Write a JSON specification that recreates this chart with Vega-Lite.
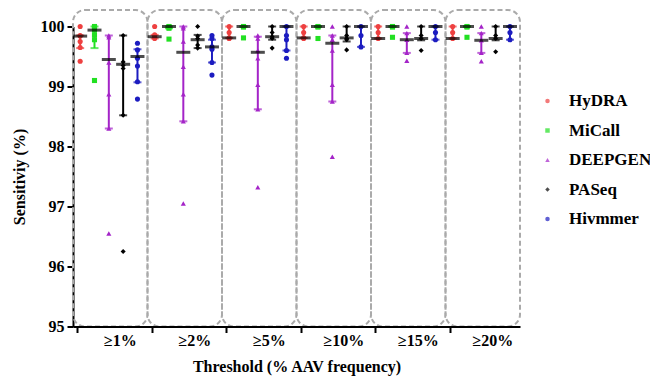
{
  "$schema": "https://vega.github.io/schema/vega-lite/v6.json",
  "width": 447,
  "height": 300,
  "autosize": "none",
  "padding": {"left": 73, "top": 26.5, "right": 130, "bottom": 51.5},
  "background": "white",
  "config": {"view": {"stroke": null}, "font": "Liberation Serif"},
  "datasets": {
    "thr": [{"threshold": "≥1%"}, {"threshold": "≥2%"}, {"threshold": "≥5%"}, {"threshold": "≥10%"}, {"threshold": "≥15%"}, {"threshold": "≥20%"}],
    "stats": [
      {"threshold": "≥1%", "tool": "HyDRA", "med": 99.84, "lo": 99.64, "hi": 99.85},
      {"threshold": "≥1%", "tool": "MiCall", "med": 99.94, "lo": 99.64, "hi": 100},
      {"threshold": "≥1%", "tool": "DEEPGEN", "med": 99.45, "lo": 98.3, "hi": 99.85},
      {"threshold": "≥1%", "tool": "PASeq", "med": 99.37, "lo": 98.52, "hi": 99.85},
      {"threshold": "≥1%", "tool": "Hivmmer", "med": 99.5, "lo": 99.07, "hi": 99.62},
      {"threshold": "≥2%", "tool": "HyDRA", "med": 99.83, "lo": 99.8, "hi": 99.86},
      {"threshold": "≥2%", "tool": "MiCall", "med": 100, "lo": 99.97, "hi": 100},
      {"threshold": "≥2%", "tool": "DEEPGEN", "med": 99.57, "lo": 98.42, "hi": 100},
      {"threshold": "≥2%", "tool": "PASeq", "med": 99.78, "lo": 99.64, "hi": 99.86},
      {"threshold": "≥2%", "tool": "Hivmmer", "med": 99.66, "lo": 99.4, "hi": 99.78},
      {"threshold": "≥5%", "tool": "HyDRA", "med": 99.81, "lo": 99.81, "hi": 100},
      {"threshold": "≥5%", "tool": "MiCall", "med": 100, "lo": 100, "hi": 100},
      {"threshold": "≥5%", "tool": "DEEPGEN", "med": 99.57, "lo": 98.62, "hi": 99.83},
      {"threshold": "≥5%", "tool": "PASeq", "med": 99.83, "lo": 99.78, "hi": 100},
      {"threshold": "≥5%", "tool": "Hivmmer", "med": 100, "lo": 99.6, "hi": 100},
      {"threshold": "≥10%", "tool": "HyDRA", "med": 99.81, "lo": 99.81, "hi": 100},
      {"threshold": "≥10%", "tool": "MiCall", "med": 100, "lo": 100, "hi": 100},
      {"threshold": "≥10%", "tool": "DEEPGEN", "med": 99.72, "lo": 98.75, "hi": 99.85},
      {"threshold": "≥10%", "tool": "PASeq", "med": 99.81, "lo": 99.75, "hi": 100},
      {"threshold": "≥10%", "tool": "Hivmmer", "med": 100, "lo": 99.66, "hi": 100},
      {"threshold": "≥15%", "tool": "HyDRA", "med": 99.8, "lo": 99.8, "hi": 100},
      {"threshold": "≥15%", "tool": "MiCall", "med": 100, "lo": 100, "hi": 100},
      {"threshold": "≥15%", "tool": "DEEPGEN", "med": 99.78, "lo": 99.56, "hi": 99.89},
      {"threshold": "≥15%", "tool": "PASeq", "med": 99.8, "lo": 99.77, "hi": 100},
      {"threshold": "≥15%", "tool": "Hivmmer", "med": 100, "lo": 99.78, "hi": 100},
      {"threshold": "≥20%", "tool": "HyDRA", "med": 99.8, "lo": 99.8, "hi": 100},
      {"threshold": "≥20%", "tool": "MiCall", "med": 100, "lo": 100, "hi": 100},
      {"threshold": "≥20%", "tool": "DEEPGEN", "med": 99.77, "lo": 99.56, "hi": 99.89},
      {"threshold": "≥20%", "tool": "PASeq", "med": 99.8, "lo": 99.77, "hi": 100},
      {"threshold": "≥20%", "tool": "Hivmmer", "med": 100, "lo": 99.78, "hi": 100}
    ],
    "pts": [
      {"threshold": "≥1%", "tool": "HyDRA", "value": 100}, {"threshold": "≥1%", "tool": "HyDRA", "value": 99.85}, {"threshold": "≥1%", "tool": "HyDRA", "value": 99.84}, {"threshold": "≥1%", "tool": "HyDRA", "value": 99.75}, {"threshold": "≥1%", "tool": "HyDRA", "value": 99.65}, {"threshold": "≥1%", "tool": "HyDRA", "value": 99.42},
      {"threshold": "≥1%", "tool": "MiCall", "value": 100}, {"threshold": "≥1%", "tool": "MiCall", "value": 99.99}, {"threshold": "≥1%", "tool": "MiCall", "value": 99.94}, {"threshold": "≥1%", "tool": "MiCall", "value": 99.86}, {"threshold": "≥1%", "tool": "MiCall", "value": 99.78}, {"threshold": "≥1%", "tool": "MiCall", "value": 99.1},
      {"threshold": "≥1%", "tool": "DEEPGEN", "value": 99.85}, {"threshold": "≥1%", "tool": "DEEPGEN", "value": 99.82}, {"threshold": "≥1%", "tool": "DEEPGEN", "value": 99.4}, {"threshold": "≥1%", "tool": "DEEPGEN", "value": 98.87}, {"threshold": "≥1%", "tool": "DEEPGEN", "value": 98.3}, {"threshold": "≥1%", "tool": "DEEPGEN", "value": 96.55},
      {"threshold": "≥1%", "tool": "PASeq", "value": 99.85}, {"threshold": "≥1%", "tool": "PASeq", "value": 99.41}, {"threshold": "≥1%", "tool": "PASeq", "value": 99.35}, {"threshold": "≥1%", "tool": "PASeq", "value": 99.3}, {"threshold": "≥1%", "tool": "PASeq", "value": 98.52}, {"threshold": "≥1%", "tool": "PASeq", "value": 96.25},
      {"threshold": "≥1%", "tool": "Hivmmer", "value": 99.72}, {"threshold": "≥1%", "tool": "Hivmmer", "value": 99.61}, {"threshold": "≥1%", "tool": "Hivmmer", "value": 99.47}, {"threshold": "≥1%", "tool": "Hivmmer", "value": 99.34}, {"threshold": "≥1%", "tool": "Hivmmer", "value": 99.08}, {"threshold": "≥1%", "tool": "Hivmmer", "value": 98.79},
      {"threshold": "≥2%", "tool": "HyDRA", "value": 100}, {"threshold": "≥2%", "tool": "HyDRA", "value": 99.86}, {"threshold": "≥2%", "tool": "HyDRA", "value": 99.84}, {"threshold": "≥2%", "tool": "HyDRA", "value": 99.82}, {"threshold": "≥2%", "tool": "HyDRA", "value": 99.8},
      {"threshold": "≥2%", "tool": "MiCall", "value": 100}, {"threshold": "≥2%", "tool": "MiCall", "value": 99.99}, {"threshold": "≥2%", "tool": "MiCall", "value": 99.97}, {"threshold": "≥2%", "tool": "MiCall", "value": 99.79},
      {"threshold": "≥2%", "tool": "DEEPGEN", "value": 100}, {"threshold": "≥2%", "tool": "DEEPGEN", "value": 99.97}, {"threshold": "≥2%", "tool": "DEEPGEN", "value": 99.75}, {"threshold": "≥2%", "tool": "DEEPGEN", "value": 99.33}, {"threshold": "≥2%", "tool": "DEEPGEN", "value": 98.87}, {"threshold": "≥2%", "tool": "DEEPGEN", "value": 98.42}, {"threshold": "≥2%", "tool": "DEEPGEN", "value": 97.05},
      {"threshold": "≥2%", "tool": "PASeq", "value": 100}, {"threshold": "≥2%", "tool": "PASeq", "value": 99.84}, {"threshold": "≥2%", "tool": "PASeq", "value": 99.8}, {"threshold": "≥2%", "tool": "PASeq", "value": 99.69}, {"threshold": "≥2%", "tool": "PASeq", "value": 99.64},
      {"threshold": "≥2%", "tool": "Hivmmer", "value": 99.85}, {"threshold": "≥2%", "tool": "Hivmmer", "value": 99.8}, {"threshold": "≥2%", "tool": "Hivmmer", "value": 99.66}, {"threshold": "≥2%", "tool": "Hivmmer", "value": 99.62}, {"threshold": "≥2%", "tool": "Hivmmer", "value": 99.4}, {"threshold": "≥2%", "tool": "Hivmmer", "value": 99.19},
      {"threshold": "≥5%", "tool": "HyDRA", "value": 100}, {"threshold": "≥5%", "tool": "HyDRA", "value": 99.9}, {"threshold": "≥5%", "tool": "HyDRA", "value": 99.81}, {"threshold": "≥5%", "tool": "HyDRA", "value": 99.8},
      {"threshold": "≥5%", "tool": "MiCall", "value": 100}, {"threshold": "≥5%", "tool": "MiCall", "value": 99.99}, {"threshold": "≥5%", "tool": "MiCall", "value": 99.81},
      {"threshold": "≥5%", "tool": "DEEPGEN", "value": 99.85}, {"threshold": "≥5%", "tool": "DEEPGEN", "value": 99.8}, {"threshold": "≥5%", "tool": "DEEPGEN", "value": 99.6}, {"threshold": "≥5%", "tool": "DEEPGEN", "value": 99.47}, {"threshold": "≥5%", "tool": "DEEPGEN", "value": 99.03}, {"threshold": "≥5%", "tool": "DEEPGEN", "value": 98.62}, {"threshold": "≥5%", "tool": "DEEPGEN", "value": 97.32},
      {"threshold": "≥5%", "tool": "PASeq", "value": 100}, {"threshold": "≥5%", "tool": "PASeq", "value": 99.9}, {"threshold": "≥5%", "tool": "PASeq", "value": 99.83}, {"threshold": "≥5%", "tool": "PASeq", "value": 99.8}, {"threshold": "≥5%", "tool": "PASeq", "value": 99.64},
      {"threshold": "≥5%", "tool": "Hivmmer", "value": 100}, {"threshold": "≥5%", "tool": "Hivmmer", "value": 99.85}, {"threshold": "≥5%", "tool": "Hivmmer", "value": 99.78}, {"threshold": "≥5%", "tool": "Hivmmer", "value": 99.6}, {"threshold": "≥5%", "tool": "Hivmmer", "value": 99.47},
      {"threshold": "≥10%", "tool": "HyDRA", "value": 100}, {"threshold": "≥10%", "tool": "HyDRA", "value": 99.9}, {"threshold": "≥10%", "tool": "HyDRA", "value": 99.81}, {"threshold": "≥10%", "tool": "HyDRA", "value": 99.8},
      {"threshold": "≥10%", "tool": "MiCall", "value": 100}, {"threshold": "≥10%", "tool": "MiCall", "value": 99.99}, {"threshold": "≥10%", "tool": "MiCall", "value": 99.8},
      {"threshold": "≥10%", "tool": "DEEPGEN", "value": 100}, {"threshold": "≥10%", "tool": "DEEPGEN", "value": 99.85}, {"threshold": "≥10%", "tool": "DEEPGEN", "value": 99.78}, {"threshold": "≥10%", "tool": "DEEPGEN", "value": 99.6}, {"threshold": "≥10%", "tool": "DEEPGEN", "value": 99.03}, {"threshold": "≥10%", "tool": "DEEPGEN", "value": 98.75}, {"threshold": "≥10%", "tool": "DEEPGEN", "value": 97.83},
      {"threshold": "≥10%", "tool": "PASeq", "value": 100}, {"threshold": "≥10%", "tool": "PASeq", "value": 99.85}, {"threshold": "≥10%", "tool": "PASeq", "value": 99.8}, {"threshold": "≥10%", "tool": "PASeq", "value": 99.78}, {"threshold": "≥10%", "tool": "PASeq", "value": 99.61},
      {"threshold": "≥10%", "tool": "Hivmmer", "value": 100}, {"threshold": "≥10%", "tool": "Hivmmer", "value": 99.85}, {"threshold": "≥10%", "tool": "Hivmmer", "value": 99.66},
      {"threshold": "≥15%", "tool": "HyDRA", "value": 100}, {"threshold": "≥15%", "tool": "HyDRA", "value": 99.9}, {"threshold": "≥15%", "tool": "HyDRA", "value": 99.8},
      {"threshold": "≥15%", "tool": "MiCall", "value": 100}, {"threshold": "≥15%", "tool": "MiCall", "value": 99.99}, {"threshold": "≥15%", "tool": "MiCall", "value": 99.82},
      {"threshold": "≥15%", "tool": "DEEPGEN", "value": 100}, {"threshold": "≥15%", "tool": "DEEPGEN", "value": 99.89}, {"threshold": "≥15%", "tool": "DEEPGEN", "value": 99.78}, {"threshold": "≥15%", "tool": "DEEPGEN", "value": 99.56}, {"threshold": "≥15%", "tool": "DEEPGEN", "value": 99.43},
      {"threshold": "≥15%", "tool": "PASeq", "value": 100}, {"threshold": "≥15%", "tool": "PASeq", "value": 99.85}, {"threshold": "≥15%", "tool": "PASeq", "value": 99.8}, {"threshold": "≥15%", "tool": "PASeq", "value": 99.6},
      {"threshold": "≥15%", "tool": "Hivmmer", "value": 100}, {"threshold": "≥15%", "tool": "Hivmmer", "value": 99.9}, {"threshold": "≥15%", "tool": "Hivmmer", "value": 99.78},
      {"threshold": "≥20%", "tool": "HyDRA", "value": 100}, {"threshold": "≥20%", "tool": "HyDRA", "value": 99.9}, {"threshold": "≥20%", "tool": "HyDRA", "value": 99.8},
      {"threshold": "≥20%", "tool": "MiCall", "value": 100}, {"threshold": "≥20%", "tool": "MiCall", "value": 99.99}, {"threshold": "≥20%", "tool": "MiCall", "value": 99.82},
      {"threshold": "≥20%", "tool": "DEEPGEN", "value": 100}, {"threshold": "≥20%", "tool": "DEEPGEN", "value": 99.89}, {"threshold": "≥20%", "tool": "DEEPGEN", "value": 99.77}, {"threshold": "≥20%", "tool": "DEEPGEN", "value": 99.56}, {"threshold": "≥20%", "tool": "DEEPGEN", "value": 99.42},
      {"threshold": "≥20%", "tool": "PASeq", "value": 100}, {"threshold": "≥20%", "tool": "PASeq", "value": 99.85}, {"threshold": "≥20%", "tool": "PASeq", "value": 99.8}, {"threshold": "≥20%", "tool": "PASeq", "value": 99.58},
      {"threshold": "≥20%", "tool": "Hivmmer", "value": 100}, {"threshold": "≥20%", "tool": "Hivmmer", "value": 99.9}, {"threshold": "≥20%", "tool": "Hivmmer", "value": 99.78}
    ]
  },
  "encoding": {
    "x": {
      "field": "threshold",
      "type": "nominal",
      "sort": ["≥1%", "≥2%", "≥5%", "≥10%", "≥15%", "≥20%"],
      "scale": {"paddingInner": 0, "paddingOuter": 0},
      "axis": {
        "title": "Threshold (% AAV frequency)",
        "titleFont": "Liberation Serif",
        "titleFontSize": 16,
        "titleFontWeight": "bold",
        "titleColor": "black",
        "titlePadding": 10,
        "labelFont": "Liberation Serif",
        "labelFontSize": 16,
        "labelFontWeight": "bold",
        "labelColor": "black",
        "labelAngle": 0,
        "labelPadding": 0,
        "labelOffset": 10,
        "bandPosition": 0.067,
        "domainColor": "black",
        "domainWidth": 2,
        "tickColor": "black",
        "tickWidth": 2,
        "tickSize": 6,
        "grid": false
      }
    }
  },
  "layer": [
    {
      "data": {"name": "thr"},
      "mark": {"type": "rect", "fill": null, "fillOpacity": 0, "stroke": "#aaaaaa", "strokeWidth": 2, "strokeDash": [5, 3], "cornerRadius": 12},
      "encoding": {
        "y": {"datum": 95, "type": "quantitative", "scale": {"domain": [95, 100], "nice": false, "zero": false}},
        "y2": {"datum": 100.275}
      }
    },
    {
      "data": {"name": "stats"},
      "mark": {"type": "rule", "strokeWidth": 2},
      "encoding": {
        "xOffset": {"field": "tool", "sort": ["HyDRA", "MiCall", "DEEPGEN", "PASeq", "Hivmmer"], "scale": {"paddingInner": 0, "paddingOuter": 0.1, "align": 0}},
        "y": {"field": "lo", "type": "quantitative"},
        "y2": {"field": "hi"},
        "color": {"field": "tool", "type": "nominal"}
      }
    },
    {
      "data": {"name": "stats"},
      "mark": {"type": "tick", "size": 8, "thickness": 2},
      "encoding": {
        "xOffset": {"field": "tool", "sort": ["HyDRA", "MiCall", "DEEPGEN", "PASeq", "Hivmmer"]},
        "y": {"field": "lo", "type": "quantitative"},
        "color": {"field": "tool", "type": "nominal"}
      }
    },
    {
      "data": {"name": "stats"},
      "mark": {"type": "tick", "size": 8, "thickness": 2},
      "encoding": {
        "xOffset": {"field": "tool", "sort": ["HyDRA", "MiCall", "DEEPGEN", "PASeq", "Hivmmer"]},
        "y": {"field": "hi", "type": "quantitative"},
        "color": {"field": "tool", "type": "nominal"}
      }
    },
    {
      "data": {"name": "pts"},
      "mark": {"type": "point", "filled": true, "size": 26, "opacity": 1},
      "encoding": {
        "xOffset": {"field": "tool", "sort": ["HyDRA", "MiCall", "DEEPGEN", "PASeq", "Hivmmer"]},
        "y": {
          "field": "value",
          "type": "quantitative",
          "axis": {
            "title": "Sensitiviy (%)",
            "titleFont": "Liberation Serif",
            "titleFontSize": 16,
            "titleFontWeight": "bold",
            "titleColor": "black",
            "titlePadding": 13,
            "labelFont": "Liberation Serif",
            "labelFontSize": 16,
            "labelFontWeight": "bold",
            "labelColor": "black",
            "labelPadding": 3,
            "values": [95, 96, 97, 98, 99, 100],
            "format": "d",
            "domainColor": "black",
            "domainWidth": 2,
            "tickColor": "black",
            "tickWidth": 2,
            "tickSize": 6,
            "grid": false
          }
        },
        "color": {
          "field": "tool",
          "type": "nominal",
          "scale": {"domain": ["HyDRA", "MiCall", "DEEPGEN", "PASeq", "Hivmmer"], "range": ["#ee4040", "#22e022", "#a424c8", "#000000", "#1c1cc0"]},
          "legend": {
            "title": null,
            "orient": "none",
            "legendX": 466,
            "legendY": 66,
            "padding": 0,
            "labelFont": "Liberation Serif",
            "labelFontSize": 17,
            "labelFontWeight": "bold",
            "labelColor": "black",
            "labelOffset": 13,
            "symbolSize": 20,
            "symbolOpacity": 1,
            "symbolStrokeWidth": 0,
            "rowPadding": 11.5
          }
        },
        "shape": {
          "field": "tool",
          "type": "nominal",
          "scale": {"domain": ["HyDRA", "MiCall", "DEEPGEN", "PASeq", "Hivmmer"], "range": ["circle", "square", "triangle-up", "diamond", "circle"]}
        }
      }
    },
    {
      "data": {"name": "stats"},
      "mark": {"type": "tick", "size": 14, "thickness": 3, "color": "black"},
      "encoding": {
        "xOffset": {"field": "tool", "sort": ["HyDRA", "MiCall", "DEEPGEN", "PASeq", "Hivmmer"]},
        "y": {"field": "med", "type": "quantitative"}
      }
    }
  ]
}
